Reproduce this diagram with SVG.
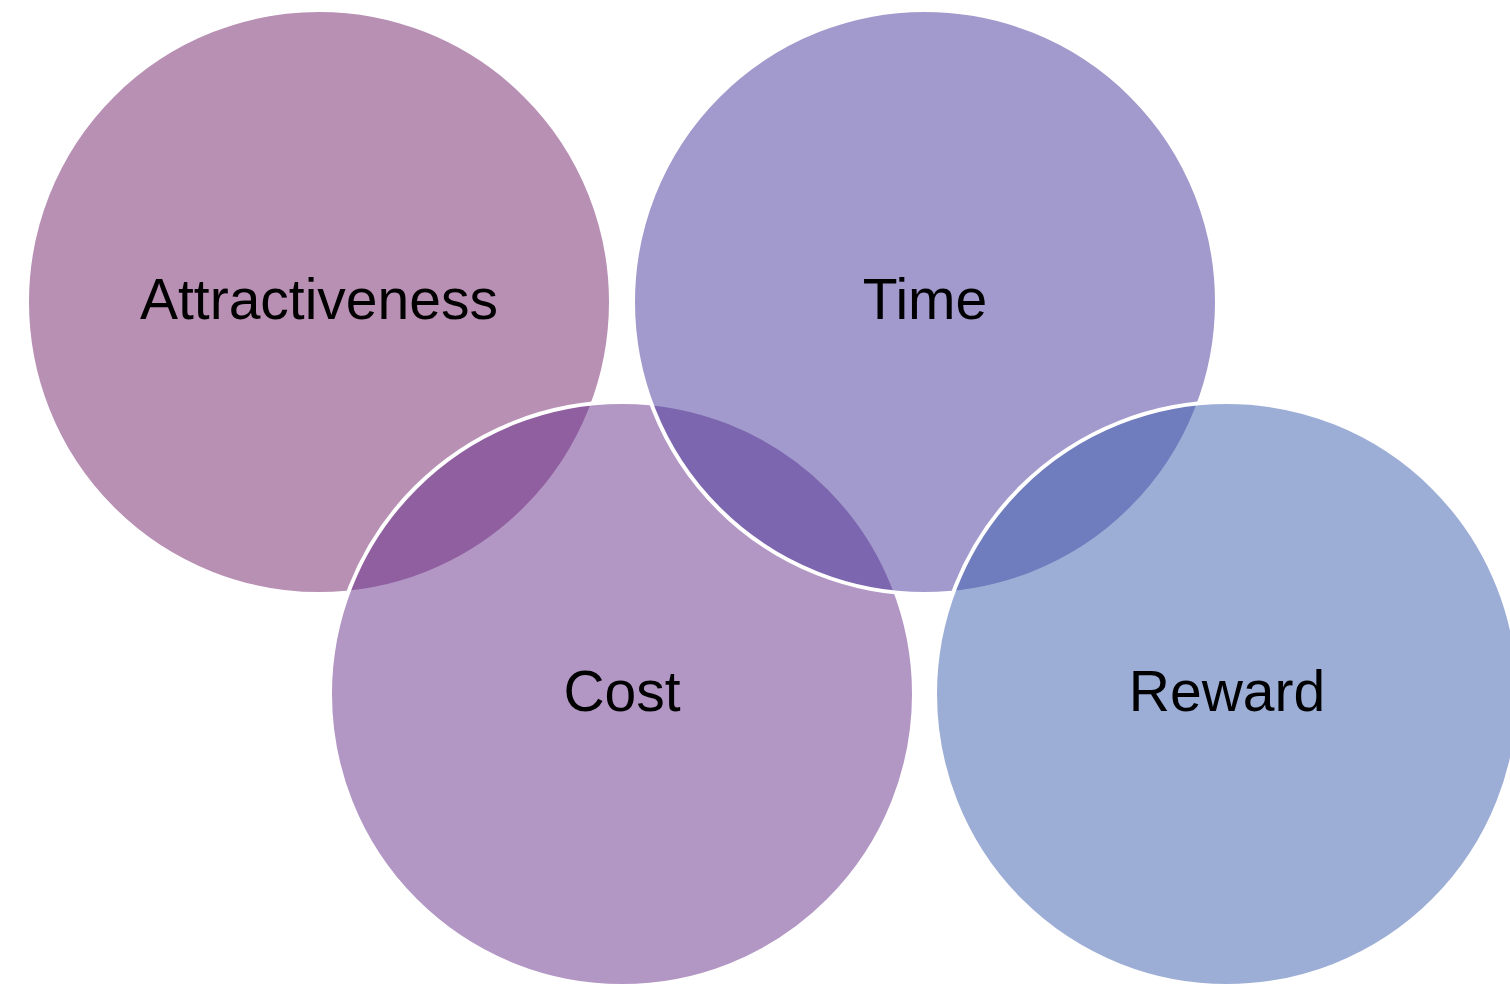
<svg xmlns="http://www.w3.org/2000/svg" width="1510" height="984" viewBox="0 0 1510 984">
<style>
.c{stroke:#ffffff;stroke-width:4;fill-opacity:0.5}
.t{font-family:"Liberation Sans",Arial,sans-serif;font-size:57px;fill:#000000;text-anchor:middle}
</style>
<rect width="1510" height="984" fill="#ffffff"/>
<g id="attractiveness"><circle class="c" cx="319" cy="302" r="292" fill="#712169"/><text class="t" x="319" y="319">Attractiveness</text></g>
<g id="cost"><circle class="c" cx="622" cy="694" r="292" fill="#652d89"/><text class="t" x="622" y="711">Cost</text></g>
<g id="time"><circle class="c" cx="925" cy="302" r="292" fill="#453599"/><text class="t" x="925" y="319">Time</text></g>
<g id="reward"><circle class="c" cx="1227" cy="694" r="292" fill="#3b5dad"/><text class="t" x="1227" y="711">Reward</text></g>
<g id="connectors"></g>
</svg>
